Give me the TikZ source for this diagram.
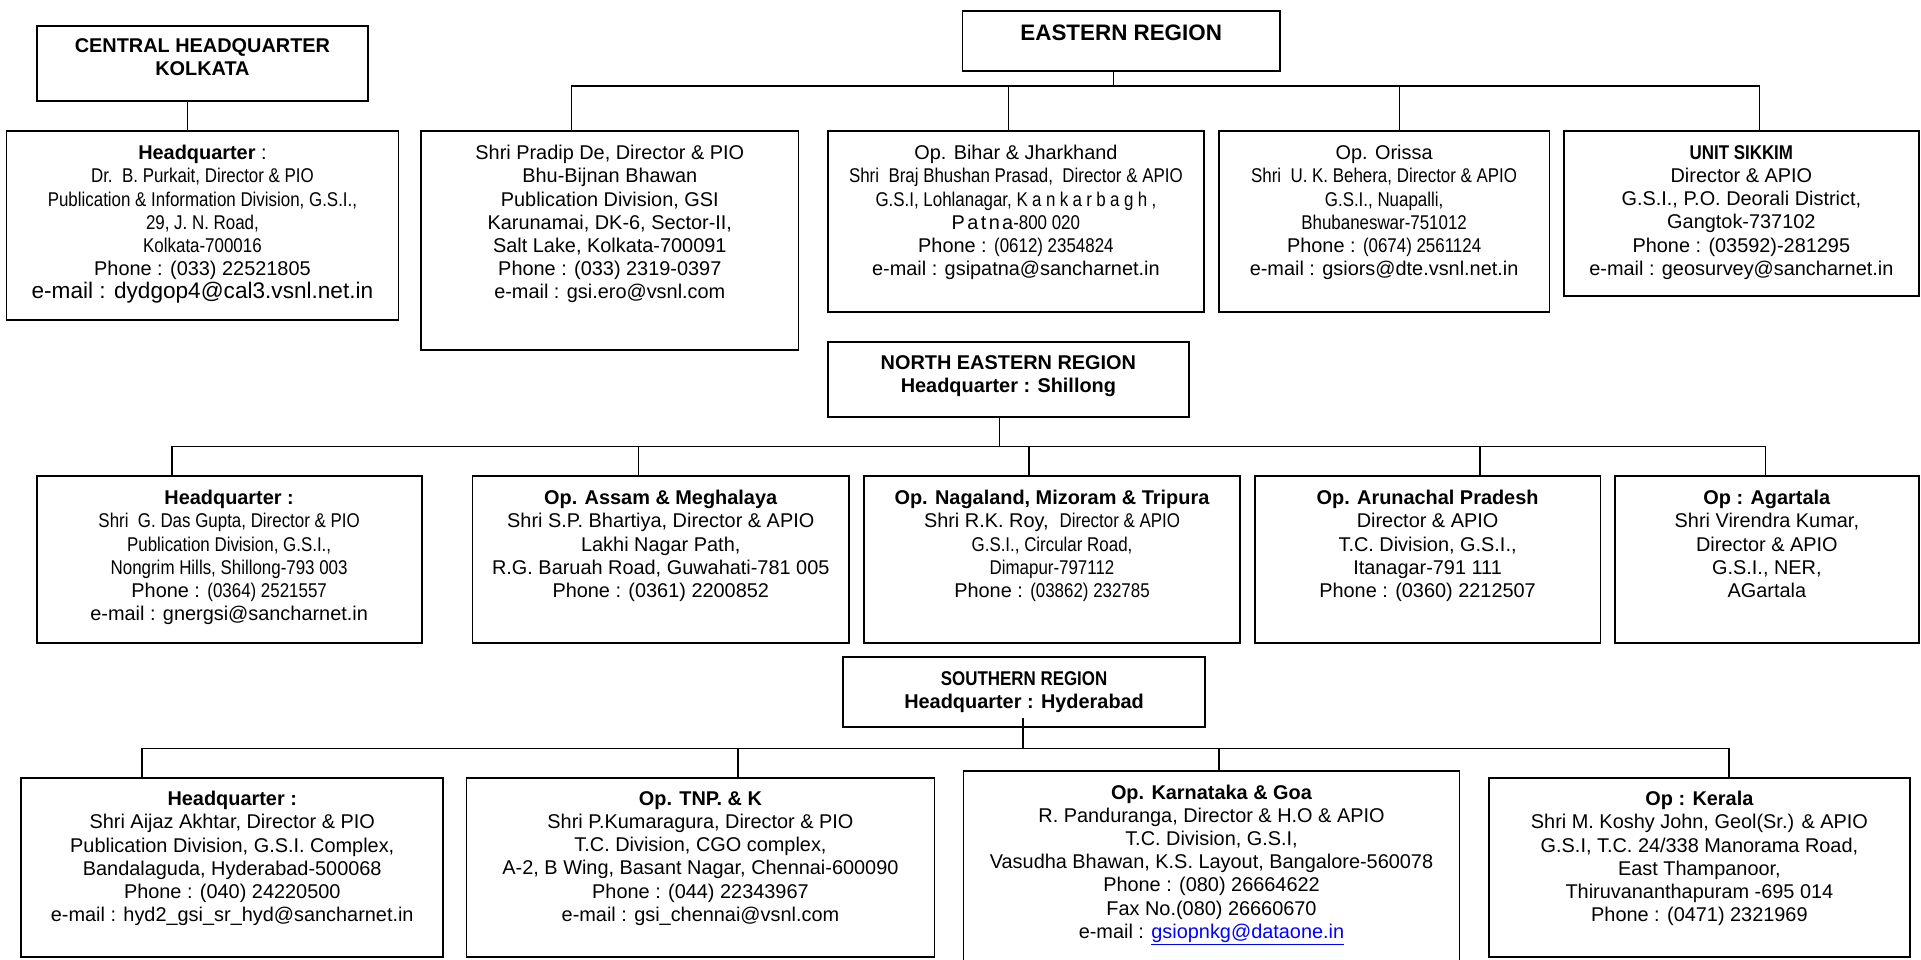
\documentclass[tikz,border=0pt]{standalone}
\usepackage{fontspec}
\setmainfont{Liberation Sans}
\newfontfamily\nar[FakeStretch=0.85]{Liberation Sans}
\definecolor{linkblue}{RGB}{0,0,255}
\begin{document}
\begin{tikzpicture}[x=1pt,y=-1pt,
  box/.style={draw, line width=1.8pt, rectangle, inner sep=0pt},
  txt/.style={align=center, anchor=north, inner sep=0pt, font=\fontsize{19.9}{23.2}\selectfont},
  btxt/.style={align=center, anchor=north, inner sep=0pt, font=\fontsize{19.9}{23.2}\selectfont\bfseries},
  conn/.style={line width=1.4pt}]
\useasboundingbox (0,0) rectangle (1921,959);

% ---------- boxes ----------
\node[box, minimum width=331.5pt, minimum height=75.3pt] (central) at (202.45,63.35) {};
\node[box, minimum width=317.6pt, minimum height=60pt]   (eastern) at (1121.2,41) {};
\node[box, minimum width=391.9pt, minimum height=189pt]  (kolhq)   at (202.45,225.5) {};
\node[box, minimum width=377.2pt, minimum height=219pt]  (pradip)  at (609.8,240.5) {};
\node[box, minimum width=376.2pt, minimum height=180.7pt] (bihar)  at (1015.9,221.35) {};
\node[box, minimum width=330.6pt, minimum height=180.7pt] (orissa) at (1384.1,221.35) {};
\node[box, minimum width=355.3pt, minimum height=165pt]  (sikkim)  at (1741.35,213.5) {};

\node[box, minimum width=361.2pt, minimum height=75pt]   (ner)     at (1008.4,379.2) {};
\node[box, minimum width=384.9pt, minimum height=166.7pt] (nehq)   at (229.15,559.35) {};
\node[box, minimum width=376.5pt, minimum height=166.7pt] (assam)  at (660.75,559.35) {};
\node[box, minimum width=376pt,   minimum height=166.7pt] (naga)   at (1052,559.35) {};
\node[box, minimum width=345.7pt, minimum height=166.7pt] (aruna)  at (1427.55,559.35) {};
\node[box, minimum width=304.3pt, minimum height=166.7pt] (agar)   at (1766.85,559.35) {};

\node[box, minimum width=362.4pt, minimum height=69.4pt] (south)   at (1024.1,692) {};
\node[box, minimum width=422.1pt, minimum height=179.3pt] (sohq)   at (232.25,867.35) {};
\node[box, minimum width=467.9pt, minimum height=179.3pt] (tnp)    at (700.45,867.35) {};
\node[box, minimum width=496pt,   minimum height=197.3pt] (karna)  at (1211.5,869.35) {};
\node[box, minimum width=420.8pt, minimum height=179.3pt] (kerala) at (1699.4,867.35) {};

% ---------- connectors ----------
\draw[conn] ([xshift=-15.15pt]central.south) -- ([xshift=-15.15pt]kolhq.north);

\coordinate (eStem)   at (1113.5,86);
\coordinate (ePradip) at (571.4,86);
\coordinate (eBihar)  at (1008.6,86);
\coordinate (eOrissa) at (1399.2,86);
\coordinate (eSikkim) at (1759.6,86);
\draw[conn] (eStem |- eastern.south) -- (eStem);
\draw[conn] (ePradip |- pradip.north) -- (ePradip) -- (eSikkim) -- (eSikkim |- sikkim.north);
\draw[conn] (eBihar) -- (eBihar |- bihar.north);
\draw[conn] (eOrissa) -- (eOrissa |- orissa.north);

\coordinate (nStem)  at (999.2,446.5);
\coordinate (nHq)    at (171.8,446.5);
\coordinate (nAssam) at (638.3,446.5);
\coordinate (nNaga)  at (1029,446.5);
\coordinate (nAruna) at (1480,446.5);
\coordinate (nAgar)  at (1765.7,446.5);
\draw[conn] (nStem |- ner.south) -- (nStem);
\draw[conn] (nHq |- nehq.north) -- (nHq) -- (nAgar) -- (nAgar |- agar.north);
\draw[conn] (nAssam) -- (nAssam |- assam.north);
\draw[conn] (nNaga) -- (nNaga |- naga.north);
\draw[conn] (nAruna) -- (nAruna |- aruna.north);

\coordinate (sStem)  at (1022.9,748.3);
\coordinate (sHq)    at (142,748.3);
\coordinate (sTnp)   at (738,748.3);
\coordinate (sKarna) at (1218.8,748.3);
\coordinate (sKer)   at (1729,748.3);
\draw[conn] ([yshift=10pt]sStem |- south.south) -- (sStem);
\draw[conn] (sHq |- sohq.north) -- (sHq) -- (sKer) -- (sKer |- kerala.north);
\draw[conn] (sTnp) -- (sTnp |- tnp.north);
\draw[conn] (sKarna) -- (sKarna |- karna.north);

% ---------- texts ----------
\node[btxt] (t-central) at ([yshift=-13.6pt]central.north) {CENTRAL HEADQUARTER\\KOLKATA};
\node[btxt, font=\fontsize{22.4}{26}\selectfont\bfseries] (t-eastern) at ([yshift=-14.3pt]eastern.north) {EASTERN REGION};

\node[txt] (t-kolhq) at ([yshift=-15pt]kolhq.north) {\textbf{Headquarter} :\\
 {\nar Dr.\ \ B. Purkait, Director \& PIO}\\
 {\nar Publication \& Information Division, G.S.I.,}\\
 {\nar 29, J. N. Road,}\\
 {\nar Kolkata-700016}\\
 Phone : (033) 22521805\\
 {\fontsize{22.6}{23.2}\selectfont e-mail : dydgop4@cal3.vsnl.net.in}};

\node[txt] (t-pradip) at ([yshift=-15pt]pradip.north) {Shri Pradip De, Director \& PIO\\
 Bhu-Bijnan Bhawan\\
 Publication Division, GSI\\
 Karunamai, DK-6, Sector-II,\\
 Salt Lake, Kolkata-700091\\
 Phone : (033) 2319-0397\\
 e-mail : gsi.ero@vsnl.com};

\node[txt] (t-bihar) at ([yshift=-15pt]bihar.north) {Op. Bihar \& Jharkhand\\
 {\nar Shri\ \ Braj Bhushan Prasad,\ \ Director \& APIO}\\
 {\nar G.S.I, Lohlanagar, }{\nar\addfontfeature{LetterSpace=22}Kankarbagh,}\\
 {\addfontfeature{LetterSpace=12}Patna}{\nar -800 020}\\
 Phone : {\nar (0612) 2354824}\\
 e-mail : gsipatna@sancharnet.in};

\node[txt] (t-orissa) at ([yshift=-15pt]orissa.north) {Op. Orissa\\
 {\nar Shri\ \ U. K. Behera, Director \& APIO}\\
 {\nar G.S.I., Nuapalli,}\\
 {\nar Bhubaneswar-751012}\\
 Phone : {\nar (0674) 2561124}\\
 e-mail : gsiors@dte.vsnl.net.in};

\node[txt] (t-sikkim) at ([yshift=-15pt]sikkim.north) {{\nar\bfseries UNIT SIKKIM}\\
 Director \& APIO\\
 G.S.I., P.O. Deorali District,\\
 Gangtok-737102\\
 Phone : (03592)-281295\\
 e-mail : geosurvey@sancharnet.in};

\node[btxt] (t-ner) at ([yshift=-14.3pt]ner.north) {NORTH EASTERN REGION\\Headquarter : Shillong};

\node[txt] (t-nehq) at ([yshift=-15pt]nehq.north) {\textbf{Headquarter :}\\
 {\nar Shri\ \ G. Das Gupta, Director \& PIO}\\
 {\nar Publication Division, G.S.I.,}\\
 {\nar Nongrim Hills, Shillong-793 003}\\
 Phone : {\nar (0364) 2521557}\\
 e-mail : gnergsi@sancharnet.in};

\node[txt] (t-assam) at ([yshift=-15pt]assam.north) {\textbf{Op. Assam \& Meghalaya}\\
 Shri S.P. Bhartiya, Director \& APIO\\
 Lakhi Nagar Path,\\
 R.G. Baruah Road, Guwahati-781 005\\
 Phone : (0361) 2200852};

\node[txt] (t-naga) at ([yshift=-15pt]naga.north) {\textbf{Op. Nagaland, Mizoram \& Tripura}\\
 Shri R.K. Roy,\ \ {\nar Director \& APIO}\\
 {\nar G.S.I., Circular Road,}\\
 {\nar Dimapur-797112}\\
 Phone : {\nar (03862) 232785}};

\node[txt] (t-aruna) at ([yshift=-15pt]aruna.north) {\textbf{Op. Arunachal Pradesh}\\
 Director \& APIO\\
 T.C. Division, G.S.I.,\\
 Itanagar-791 111\\
 Phone : (0360) 2212507};

\node[txt] (t-agar) at ([yshift=-15pt]agar.north) {\textbf{Op : Agartala}\\
 Shri Virendra Kumar,\\
 Director \& APIO\\
 G.S.I., NER,\\
 AGartala};

\node[btxt] (t-south) at ([yshift=-14.7pt]south.north) {{\nar SOUTHERN REGION}\\Headquarter : Hyderabad};

\node[txt] (t-sohq) at ([yshift=-14.3pt]sohq.north) {\textbf{Headquarter :}\\
 Shri Aijaz Akhtar, Director \& PIO\\
 Publication Division, G.S.I. Complex,\\
 Bandalaguda, Hyderabad-500068\\
 Phone : (040) 24220500\\
 e-mail : hyd2\_gsi\_sr\_hyd@sancharnet.in};

\node[txt] (t-tnp) at ([yshift=-14.3pt]tnp.north) {\textbf{Op. TNP. \& K}\\
 Shri P.Kumaragura, Director \& PIO\\
 T.C. Division, CGO complex,\\
 A-2, B Wing, Basant Nagar, Chennai-600090\\
 Phone : (044) 22343967\\
 e-mail : gsi\_chennai@vsnl.com};

\node[txt] (t-karna) at ([yshift=-14.6pt]karna.north) {\textbf{Op. Karnataka \& Goa}\\
 R. Panduranga, Director \& H.O \& APIO\\
 T.C. Division, G.S.I,\\
 Vasudha Bhawan, K.S. Layout, Bangalore-560078\\
 Phone : (080) 26664622\\
 Fax No.(080) 26660670\\
 e-mail : \textcolor{linkblue}{\underline{gsiopnkg@dataone.in}}};

\node[txt] (t-kerala) at ([yshift=-14.3pt]kerala.north) {\textbf{Op : Kerala}\\
 Shri M. Koshy John, Geol(Sr.) \& APIO\\
 G.S.I, T.C. 24/338 Manorama Road,\\
 East Thampanoor,\\
 Thiruvananthapuram -695 014\\
 Phone : (0471) 2321969};
\end{tikzpicture}
\end{document}
